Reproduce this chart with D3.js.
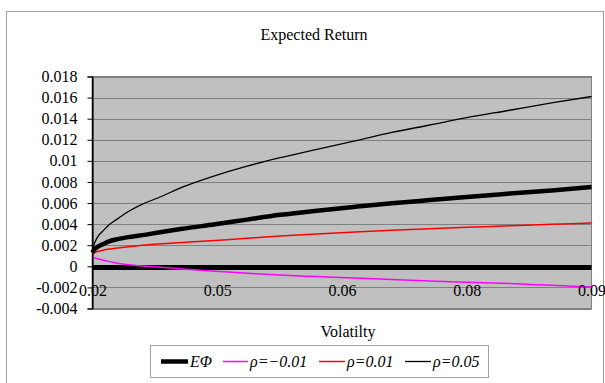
<!DOCTYPE html>
<html>
<head>
<meta charset="utf-8">
<script src="https://cdn.jsdelivr.net/npm/d3@7"></script>
<style>
  html, body { margin: 0; padding: 0; background: #fff; }
  svg { display: block; }
  svg text { font-family: "Liberation Serif", "Times New Roman", Times, serif !important; fill: #000; }
</style>
</head>
<body>
<svg id="chart" width="605" height="383"></svg>
<script>
// ---- data (positions along the category axis, 0..100 %) ----
const xPos   = [0, 0.2, 0.6, 1.2, 2, 3.2, 5, 7.2, 10, 13.2, 18, 24.6, 31, 37.6, 45, 52.6, 60, 67.6, 75, 83.6, 92, 100];
const ePhi   = [0.0013, 0.0015, 0.0017, 0.0019, 0.00208, 0.00235, 0.00258, 0.00277, 0.00296, 0.00321, 0.00356, 0.00398, 0.00443, 0.00488, 0.00528, 0.00564, 0.00597, 0.00628, 0.00658, 0.0069, 0.0072, 0.00752];
const rhoNeg = [0.0009, 0.00085, 0.00078, 0.0007, 0.0006, 0.00047, 0.0003, 0.00016, 0.00004, -0.00006, -0.00025, -0.00047, -0.00065, -0.00083, -0.00097, -0.0011, -0.00125, -0.0014, -0.0015, -0.00164, -0.0018, -0.00195];
const rho001 = [0.0011, 0.00123, 0.00133, 0.00143, 0.00152, 0.00162, 0.00174, 0.00186, 0.00199, 0.00211, 0.00226, 0.00245, 0.00266, 0.00287, 0.00307, 0.00325, 0.00341, 0.00356, 0.0037, 0.00384, 0.00398, 0.0041];
const rho005 = [0.0013, 0.0019, 0.0024, 0.0029, 0.0033, 0.0039, 0.0045, 0.0052, 0.0059, 0.0065, 0.0075, 0.0086, 0.0095, 0.0103, 0.0111, 0.0119, 0.0127, 0.0134, 0.0141, 0.0148, 0.0155, 0.0161];
const flatLine = [-0.00012, -0.00012];
const flatPos = [0, 100];

const xTickPos = [0, 25, 50, 75, 100];
const xTickLabels = ["0.02", "0.05", "0.06", "0.08", "0.09"];
const yTickValues = [-0.004, -0.002, 0, 0.002, 0.004, 0.006, 0.008, 0.01, 0.012, 0.014, 0.016, 0.018];
const yTickLabels = ["-0.004", "-0.002", "0", "0.002", "0.004", "0.006", "0.008", "0.01", "0.012", "0.014", "0.016", "0.018"];

const seriesNames = ["EΦ", "ρ=−0.01", "ρ=0.01", "ρ=0.05"];

// ---- layout ----
const FONT = "'Liberation Serif', 'Times New Roman', Times, serif";
const svg = d3.select("#chart");
const L = 92.5, R = 591.5, T = 76.5, B = 308.5;
const x = d3.scaleLinear().domain([0, 100]).range([L, R]);
const y = d3.scaleLinear().domain([-0.004, 0.018]).range([B, T]);

// outer chart border
svg.append("rect").attr("x", 6.5).attr("y", 11.5).attr("width", 597).attr("height", 380)
  .attr("fill", "#fff").attr("stroke", "#a0a0a0").attr("stroke-width", 1);

// plot area
svg.append("rect").attr("x", L).attr("y", T).attr("width", R - L).attr("height", B - T)
  .attr("fill", "#c0c0c0").attr("stroke", "#808080").attr("stroke-width", 1);

// gridlines
svg.append("g").selectAll("line").data(yTickValues).join("line")
  .attr("x1", L).attr("x2", R)
  .attr("y1", d => Math.round(y(d)) + 0.5).attr("y2", d => Math.round(y(d)) + 0.5)
  .attr("stroke", "#808080").attr("stroke-width", 1);

// y axis
const yAxis = d3.axisLeft(y).tickValues(yTickValues)
  .tickFormat((d, i) => yTickLabels[i]).tickSize(5).tickPadding(10);
const gy = svg.append("g").attr("transform", `translate(${L},0)`).call(yAxis)
  .attr("font-family", FONT).attr("font-size", 16);
gy.select(".domain").attr("stroke", "#000");
gy.selectAll(".tick line").attr("stroke", "#000");
gy.selectAll(".tick text").style("font-family", FONT).style("font-size", "16px").attr("fill", "#000");

// series lines
const line = d3.line().x(d => x(d[0])).y(d => y(d[1])).curve(d3.curveMonotoneX);
function draw(pos, vals, color, width) {
  svg.append("path").datum(pos.map((p, i) => [p, vals[i]]))
    .attr("d", line).attr("fill", "none").attr("stroke", color)
    .attr("stroke-width", width).attr("stroke-linejoin", "round");
}
draw(flatPos, flatLine, "#000", 5);
draw(xPos, rhoNeg, "#ff00ff", 1.5);
draw(xPos, rho001, "#ff0000", 1.5);
draw(xPos, ePhi, "#000", 4.5);
draw(xPos, rho005, "#000", 1.3);

// x axis labels (category)
const xAxis = d3.axisBottom(x).tickValues(xTickPos).tickFormat((d, i) => xTickLabels[i]).tickSize(0).tickPadding(0);
const gx = svg.append("g").attr("transform", `translate(0,${Math.round(y(-0.002))})`).call(xAxis)
  .attr("font-family", FONT).attr("font-size", 16);
gx.select(".domain").remove();
gx.selectAll(".tick text").style("font-family", FONT).style("font-size", "16px")
  .attr("fill", "#000").attr("dy", "0.55em");

// left axis line on top
svg.append("line").attr("x1", L).attr("x2", L).attr("y1", T).attr("y2", B).attr("stroke", "#000").attr("stroke-width", 1.5);

// titles
svg.append("text").attr("x", 314).attr("y", 40).attr("text-anchor", "middle")
  .style("font-family", FONT).style("font-size", "16px").text("Expected Return");
svg.append("text").attr("x", 348).attr("y", 337).attr("text-anchor", "middle")
  .style("font-family", FONT).style("font-size", "16px").text("Volatilty");

// legend
const lg = svg.append("g");
lg.append("rect").attr("x", 150.5).attr("y", 345.5).attr("width", 338).attr("height", 32)
  .attr("fill", "#fff").attr("stroke", "#a0a0a0");
const legendItems = [
  {name: seriesNames[0], color: "#000", w: 4.5, x1: 161, x2: 188},
  {name: seriesNames[1], color: "#ff00ff", w: 1.5, x1: 223, x2: 248},
  {name: seriesNames[2], color: "#ff0000", w: 1.5, x1: 319, x2: 345},
  {name: seriesNames[3], color: "#000", w: 1.3, x1: 405, x2: 431}
];
const ly = 361.5;
legendItems.forEach(it => {
  lg.append("line").attr("x1", it.x1).attr("x2", it.x2).attr("y1", ly).attr("y2", ly)
    .attr("stroke", it.color).attr("stroke-width", it.w);
  lg.append("text").attr("x", it.x2 + 2).attr("y", ly + 5.5)
    .style("font-family", FONT).style("font-size", "16px")
    .style("font-style", "italic").text(it.name);
});
</script>
</body>
</html>
